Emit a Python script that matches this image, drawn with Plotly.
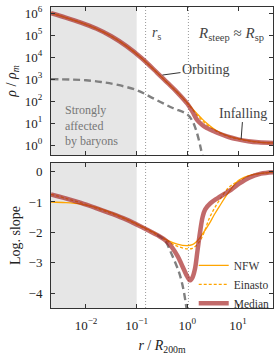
import numpy as np
import plotly.graph_objects as go

# ---------------- data (log10 values) ----------------
# density panel
log_r_med_rho = [-2.69, -2.4, -2.1, -1.8, -1.5, -1.2, -0.9, -0.6, -0.4, -0.2, 0.0, 0.1, 0.2,
                 0.3, 0.4, 0.5, 0.6, 0.8, 1.0, 1.2, 1.4, 1.69]
log_rho_med = [6.0, 5.8, 5.57, 5.3, 4.95, 4.5, 3.95, 3.3, 2.85, 2.4, 1.88, 1.52, 1.12,
               0.9, 0.76, 0.65, 0.55, 0.38, 0.26, 0.18, 0.13, 0.1]

log_r_fit_rho = [-2.69, -2.4, -2.1, -1.8, -1.5, -1.2, -0.9, -0.6, -0.4, -0.2, 0.0, 0.1, 0.2,
                 0.3, 0.4, 0.5, 0.6, 0.7, 0.8, 1.0, 1.2, 1.4, 1.69]
log_rho_nfw = [6.0, 5.8, 5.57, 5.3, 4.95, 4.5, 3.95, 3.3, 2.85, 2.4, 1.92, 1.66, 1.41,
               1.17, 0.96, 0.78, 0.63, 0.51, 0.42, 0.29, 0.2, 0.14, 0.1]
log_rho_ein = [6.0, 5.8, 5.57, 5.3, 4.95, 4.5, 3.95, 3.3, 2.85, 2.4, 1.9, 1.62, 1.35,
               1.1, 0.9, 0.74, 0.6, 0.49, 0.4, 0.28, 0.19, 0.13, 0.1]

log_r_orb_rho = [-2.69, -2.3, -2.0, -1.7, -1.4, -1.0, -0.65, -0.3, 0.0, 0.1, 0.17, 0.22, 0.27, 0.3]
log_rho_orb = [3.0, 2.98, 2.95, 2.87, 2.75, 2.5, 2.1, 1.7, 1.4, 1.1, 0.7, 0.3, -0.2, -0.5]

# slope panel
log_r_med_slp = [-2.69, -2.4, -2.1, -1.8, -1.5, -1.2, -0.9, -0.6, -0.4, -0.2, -0.1, 0.0, 0.05,
                 0.1, 0.15, 0.2, 0.25, 0.3, 0.35, 0.45, 0.6, 0.86, 1.02, 1.22, 1.45, 1.69]
slope_med = [-0.75, -0.88, -1.03, -1.2, -1.38, -1.58, -1.82, -2.08, -2.3, -2.75, -3.1, -3.45, -3.57,
             -3.48, -3.2, -2.6, -2.0, -1.5, -1.25, -1.05, -0.87, -0.6, -0.4, -0.2, -0.07, -0.02]

log_r_fit_slp = [-2.69, -2.4, -2.1, -1.8, -1.5, -1.2, -0.9, -0.6, -0.4, -0.2, 0.0, 0.1, 0.2,
                 0.3, 0.43, 0.53, 0.63, 0.82, 1.02, 1.27, 1.5, 1.69]
slope_nfw = [-1.0, -1.02, -1.07, -1.18, -1.35, -1.56, -1.8, -2.05, -2.25, -2.38, -2.43, -2.4, -2.27,
             -2.05, -1.72, -1.42, -1.15, -0.67, -0.28, -0.11, -0.05, -0.02]
slope_ein = [-0.75, -0.88, -1.03, -1.2, -1.38, -1.58, -1.82, -2.08, -2.28, -2.45, -2.54, -2.52, -2.38,
             -2.12, -1.55, -1.22, -0.95, -0.52, -0.3, -0.11, -0.05, -0.02]

log_r_orb_slp = [-0.6, -0.45, -0.3, -0.16, -0.08, -0.02, 0.02]
slope_orb = [-2.08, -2.25, -2.75, -3.33, -3.85, -4.45, -4.9]

x_tick_vals = [1e-2, 1e-1, 1e0, 1e1]
x_tick_text = ["10<sup>−2</sup>", "10<sup>−1</sup>", "10<sup>0</sup>", "10<sup>1</sup>"]
y1_tick_vals = [1e0, 1e1, 1e2, 1e3, 1e4, 1e5, 1e6]
y1_tick_text = ["10<sup>0</sup>", "10<sup>1</sup>", "10<sup>2</sup>", "10<sup>3</sup>",
                "10<sup>4</sup>", "10<sup>5</sup>", "10<sup>6</sup>"]
y2_tick_vals = [0, -1, -2, -3, -4]
y2_tick_text = ["0", "−1", "−2", "−3", "−4"]

r_baryon = 0.1
r_s = 0.15
r_steep = 1.05

# ---------------- styles ----------------
FONT = "Liberation Serif"
ORANGE = "#FFA500"
MED = "rgba(165,35,35,0.68)"
GRAY = "#808080"
AX = "#333333"

def p(a):
    return 10 ** np.asarray(a, dtype=float)

fig = go.Figure()

# top panel
fig.add_trace(go.Scatter(x=p(log_r_fit_rho), y=p(log_rho_nfw), mode="lines", showlegend=False,
                         line=dict(color=ORANGE, width=1.3, shape="spline"), xaxis="x", yaxis="y"))
fig.add_trace(go.Scatter(x=p(log_r_fit_rho), y=p(log_rho_ein), mode="lines", showlegend=False,
                         line=dict(color=ORANGE, width=1.3, dash="3px,2px", shape="spline"), xaxis="x", yaxis="y"))
fig.add_trace(go.Scatter(x=p(log_r_orb_rho), y=p(log_rho_orb), mode="lines", showlegend=False,
                         line=dict(color=GRAY, width=2.4, dash="7px,4px", shape="spline"), xaxis="x", yaxis="y"))
fig.add_trace(go.Scatter(x=p(log_r_med_rho), y=p(log_rho_med), mode="lines", showlegend=False,
                         line=dict(color=MED, width=4.5, shape="spline"), xaxis="x", yaxis="y"))

# bottom panel
fig.add_trace(go.Scatter(x=p(log_r_fit_slp), y=slope_nfw, mode="lines", name="NFW", legendrank=1,
                         line=dict(color=ORANGE, width=1.3, shape="spline"), xaxis="x2", yaxis="y2"))
fig.add_trace(go.Scatter(x=p(log_r_fit_slp), y=slope_ein, mode="lines", name="Einasto", legendrank=2,
                         line=dict(color=ORANGE, width=1.3, dash="3px,2px", shape="spline"), xaxis="x2", yaxis="y2"))
fig.add_trace(go.Scatter(x=p(log_r_orb_slp), y=slope_orb, mode="lines", showlegend=False,
                         line=dict(color=GRAY, width=2.4, dash="7px,4px", shape="spline"), xaxis="x2", yaxis="y2"))
fig.add_trace(go.Scatter(x=p(log_r_med_slp), y=slope_med, mode="lines", name="Median", legendrank=3,
                         line=dict(color=MED, width=4.5, shape="spline"), xaxis="x2", yaxis="y2"))

shapes = []
for xr, yr in (("x", "y"), ("x2", "y2")):
    shapes.append(dict(type="rect", xref=xr, yref=yr + " domain", x0=10 ** -2.69, x1=r_baryon, y0=0, y1=1,
                       fillcolor="#E6E6E6", line=dict(width=0), layer="below"))
    for xv in (r_s, r_steep):
        shapes.append(dict(type="line", xref=xr, yref=yr + " domain", x0=xv, x1=xv, y0=0, y1=1,
                           line=dict(color="#999999", width=1, dash="1px,2px"), layer="below"))

common_x = dict(type="log", range=[-2.69, 1.69], ticks="inside", ticklen=4, tickcolor=AX,
                showline=True, linecolor=AX, linewidth=1, mirror="ticks", showgrid=False, zeroline=False,
                tickvals=x_tick_vals, ticktext=x_tick_text, tickfont=dict(family=FONT, size=13, color="#222"))

fig.update_layout(
    width=275, height=357,
    margin=dict(l=51, r=1, t=7, b=49),
    paper_bgcolor="white", plot_bgcolor="white",
    font=dict(family=FONT, size=13, color="#222"),
    xaxis=dict(common_x, domain=[0, 1], anchor="y", showticklabels=False),
    yaxis=dict(type="log", range=[-0.45, 6.28], domain=[0.5083, 1], anchor="x",
               ticks="inside", ticklen=4, tickcolor=AX, showline=True, linecolor=AX, linewidth=1,
               mirror="ticks", showgrid=False, zeroline=False,
               tickvals=y1_tick_vals, ticktext=y1_tick_text, ticklabelstandoff=5,
               tickfont=dict(family=FONT, size=13, color="#222"),
               title=dict(text="<i>ρ</i> / <i>ρ<sub>m</sub></i>", font=dict(family=FONT, size=14), standoff=4)),
    xaxis2=dict(common_x, domain=[0, 1], anchor="y2", ticklabelstandoff=5,
                title=dict(text="<i>r</i> / <i>R</i><sub>200m</sub>", font=dict(family=FONT, size=14), standoff=8)),
    yaxis2=dict(range=[-4.48, 0.28], domain=[0, 0.4817], anchor="x2",
                ticks="inside", ticklen=4, tickcolor=AX, showline=True, linecolor=AX, linewidth=1,
                mirror="ticks", showgrid=False, zeroline=False,
                tickvals=y2_tick_vals, ticktext=y2_tick_text, ticklabelstandoff=5,
                tickfont=dict(family=FONT, size=13, color="#222"),
                title=dict(text="Log. slope", font=dict(family=FONT, size=14), standoff=4)),
    shapes=shapes,
    showlegend=True,
    legend=dict(x=0.64, y=0.19, xanchor="left", yanchor="top", bgcolor="rgba(0,0,0,0)",
                font=dict(family=FONT, size=11.5, color="#333"), itemwidth=30, tracegroupgap=0),
)

ann_font = dict(family=FONT, size=14, color="#444")
fig.add_annotation(x=-2.45, y=0.196, xref="x", yref="y domain", xanchor="left", yanchor="middle",
                   text="Strongly<br>affected<br>by baryons", align="left", showarrow=False,
                   font=dict(family=FONT, size=12, color="#777"))
fig.add_annotation(x=-0.61, y=0.89, xref="x", yref="y domain", text="<i>r</i><sub>s</sub>",
                   showarrow=False, font=ann_font)
fig.add_annotation(x=0.86, y=0.89, xref="x", yref="y domain",
                   text="<i>R</i><sub>steep</sub> ≈ <i>R</i><sub>sp</sub>", showarrow=False,
                   font=dict(family=FONT, size=15, color="#444"))
fig.add_annotation(x=-0.51, y=3.18, xref="x", yref="y", text="Orbiting", showarrow=True,
                   arrowhead=0, arrowwidth=1, arrowcolor="#333", ax=44, ay=-6, standoff=1, font=ann_font)
fig.add_annotation(x=1.06, y=0.23, xref="x", yref="y", text="Infalling", showarrow=True,
                   arrowhead=0, arrowwidth=1, arrowcolor="#333", ax=2, ay=-27, standoff=1, font=ann_font)

fig.write_html("out.html", config={"displayModeBar": False},
               post_script="document.body.style.margin='0';document.body.style.overflow='hidden';")
